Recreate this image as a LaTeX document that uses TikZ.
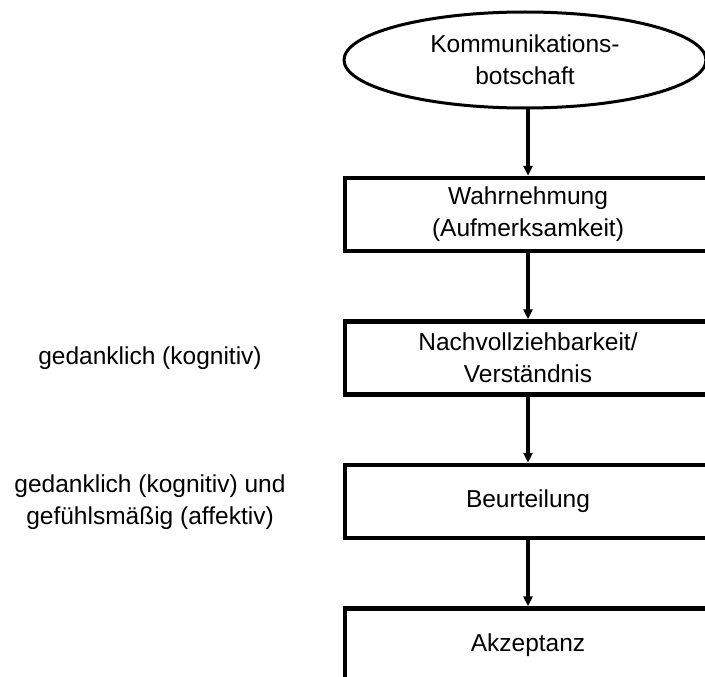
\documentclass[tikz,border=0pt]{standalone}
\usepackage{fontspec}
\setmainfont{Liberation Sans}
\usetikzlibrary{shapes.geometric, arrows.meta}

\begin{document}
\begin{tikzpicture}[x=1pt, y=-1pt, >={Triangle[width=9pt, length=10pt]},
		every node/.style={font=\fontsize{24.5}{32}\selectfont, align=center},
		stufe/.style={draw, rectangle, line width=4.5pt, minimum width=366pt, minimum height=73pt, inner sep=0pt},
		pfeil/.style={->, line width=3.5pt}]
				% 1. Bildausschnitt (rechts und unten abgeschnitten)
				\useasboundingbox (0,0) rectangle (705,677);
				\clip (0,0) rectangle (705,677);
				
				% 2. Ellipse und Stufen
				\node[draw, ellipse, line width=3pt, minimum width=362pt, minimum height=96pt, inner sep=0pt] (botschaft) at (525,60) {Kommunikations-\\botschaft};
				\node[stufe] (wahrnehmung) at (528,214.5) {Wahrnehmung\\(Aufmerksamkeit)};
				\node[stufe] (verstaendnis) at (528,358) {Nachvollziehbarkeit/\\Verständnis};
				\node[stufe] (beurteilung) at (528,501.5) {Beurteilung};
				\node[stufe] (akzeptanz) at (528,645) {Akzeptanz};
				
				% 3. Beschriftungen links
				\node (kognitiv) at (150,358) {gedanklich (kognitiv)};
				\node (affektiv) at (150,502) {gedanklich (kognitiv) und\\gefühlsmäßig (affektiv)};
				
				% 4. Pfeile
				\draw[pfeil] (wahrnehmung.north |- botschaft.south) -- (wahrnehmung.north);
				\draw[pfeil] (wahrnehmung) -- (verstaendnis);
				\draw[pfeil] (verstaendnis) -- (beurteilung);
				\draw[pfeil] (beurteilung) -- (akzeptanz);
			\end{tikzpicture}
\end{document}
